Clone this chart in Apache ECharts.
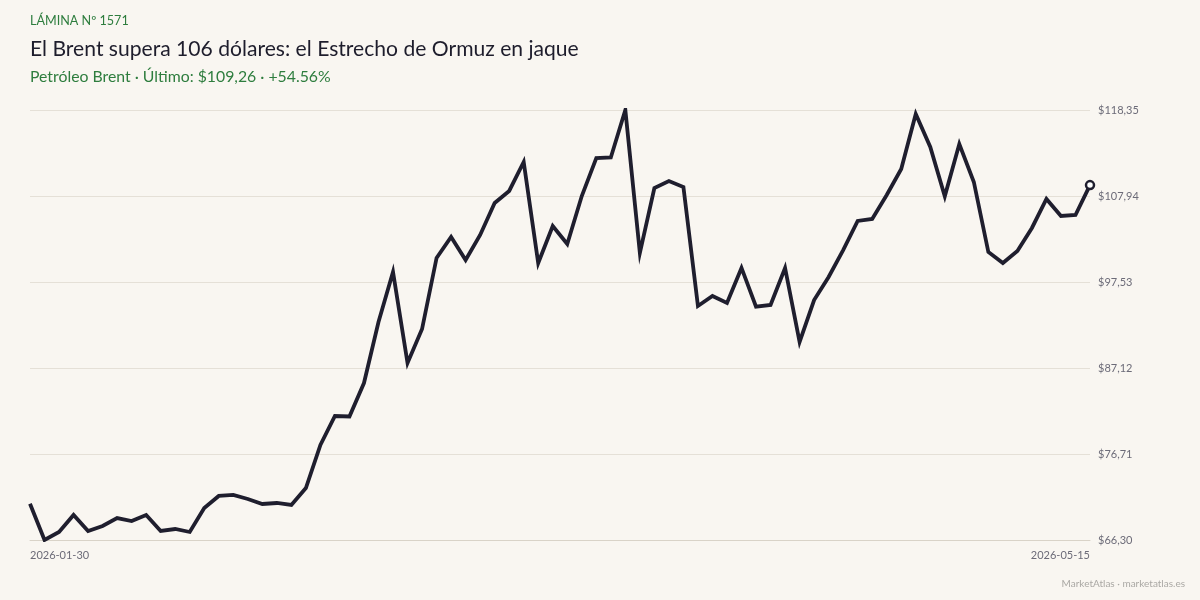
<!DOCTYPE html>
<html>
<head>
<meta charset="utf-8">
<script src="https://cdn.jsdelivr.net/npm/echarts@6/dist/echarts.min.js"></script>
<style>
  html, body { margin: 0; padding: 0; background: #f9f6f1; }
  #chart { width: 1200px; height: 600px; }
</style>
</head>
<body>
<div id="chart"></div>
<script>
// trading days (Good Friday / Easter Monday closed)
const dates = [
  '2026-01-30','2026-02-02','2026-02-03','2026-02-04','2026-02-05','2026-02-06',
  '2026-02-09','2026-02-10','2026-02-11','2026-02-12','2026-02-13',
  '2026-02-16','2026-02-17','2026-02-18','2026-02-19','2026-02-20',
  '2026-02-23','2026-02-24','2026-02-25','2026-02-26','2026-02-27',
  '2026-03-02','2026-03-03','2026-03-04','2026-03-05','2026-03-06',
  '2026-03-09','2026-03-10','2026-03-11','2026-03-12','2026-03-13',
  '2026-03-16','2026-03-17','2026-03-18','2026-03-19','2026-03-20',
  '2026-03-23','2026-03-24','2026-03-25','2026-03-26','2026-03-27',
  '2026-03-30','2026-03-31','2026-04-01','2026-04-02',
  '2026-04-07','2026-04-08','2026-04-09','2026-04-10',
  '2026-04-13','2026-04-14','2026-04-15','2026-04-16','2026-04-17',
  '2026-04-20','2026-04-21','2026-04-22','2026-04-23','2026-04-24',
  '2026-04-27','2026-04-28','2026-04-29','2026-04-30','2026-05-01',
  '2026-05-04','2026-05-05','2026-05-06','2026-05-07','2026-05-08',
  '2026-05-11','2026-05-12','2026-05-13','2026-05-14','2026-05-15'
]

// precio de cierre Brent (USD)
const brent = [
  70.69, 66.30, 67.27, 69.33, 67.39, 67.99, 68.96, 68.60, 69.33, 67.39,
  67.63, 67.27, 70.17, 71.63, 71.75, 71.26, 70.66, 70.78, 70.54, 72.59,
  77.80, 81.31, 81.25, 85.30, 92.69, 98.74, 87.73, 91.84, 100.44, 102.98,
  100.19, 103.22, 107.09, 108.55, 112.06, 99.83, 104.31, 102.13, 107.94, 112.54,
  112.60, 118.35, 101.04, 108.91, 109.76, 109.03, 94.63, 95.84, 94.99, 99.23,
  94.55, 94.75, 99.23, 90.27, 95.35, 98.14, 101.40, 104.92, 105.16, 108.06,
  111.21, 117.87, 113.87, 107.90, 114.24, 109.64, 101.16, 99.83, 101.28, 104.07,
  107.58, 105.52, 105.64, 109.26
]

const yMin = 66.30
const yMax = 118.35
const yStep = 10.41

const chart = echarts.init(document.getElementById('chart'))

const lastIdx = brent.length - 1

const option = {
  backgroundColor: '#f9f6f1',
  textStyle: { fontFamily: 'Lato' },
  animation: false,
  title: [
    {
      text: 'LÁMINA Nº 1571',
      left: 25, top: 9,
      textStyle: { fontFamily: 'Lato', fontSize: 12.6, fontWeight: 'normal', color: '#2e7d3e' }
    },
    {
      text: 'El Brent supera 106 dólares: el Estrecho de Ormuz en jaque',
      left: 25, top: 34,
      textStyle: { fontFamily: 'Lato', fontSize: 21.1, fontWeight: 'normal', color: '#1e1d2c' }
    },
    {
      text: 'Petróleo Brent · Último: $109,26 · +54.56%',
      left: 25, top: 64,
      textStyle: { fontFamily: 'Lato', fontSize: 15.8, fontWeight: 'normal', color: '#2e7d3e' }
    },
    {
      text: 'MarketAtlas · marketatlas.es',
      right: 10, top: 574,
      textStyle: { fontFamily: 'Lato', fontSize: 10, fontWeight: 'normal', color: '#aaa8a4' }
    }
  ],
  grid: { left: 30, right: 110, top: 110, bottom: 60, containLabel: false },
  xAxis: {
    type: 'category',
    data: dates,
    boundaryGap: false,
    axisLine: { show: true, lineStyle: { color: '#d9d3c8', width: 1 } },
    axisTick: { show: false },
    splitLine: { show: false },
    axisLabel: {
      color: '#6c6b78',
      fontFamily: 'Lato',
      fontSize: 11,
      margin: 10,
      interval: (i) => i === 0 || i === lastIdx,
      alignMinLabel: 'left',
      alignMaxLabel: 'right'
    }
  },
  yAxis: {
    type: 'value',
    position: 'right',
    min: yMin,
    max: yMax,
    interval: yStep,
    axisLine: { show: false },
    axisTick: { show: false },
    splitLine: { lineStyle: { color: '#e5e0d7', width: 1 } },
    axisLabel: {
      color: '#6c6b78',
      fontFamily: 'Lato',
      fontSize: 11,
      margin: 8,
      formatter: (v) => '$' + v.toFixed(2).replace('.', ',')
    }
  },
  series: [
    {
      type: 'line',
      data: brent,
      symbol: 'none',
      lineStyle: { color: '#1f1e2e', width: 3.8, join: 'miter' },
      markPoint: {
        symbol: 'circle',
        symbolSize: 8,
        itemStyle: { color: '#ffffff', borderColor: '#1f1e2e', borderWidth: 2.5 },
        label: { show: false },
        data: [{ coord: [lastIdx, brent[lastIdx]] }]
      }
    }
  ]
}

chart.setOption(option)
</script>
</body>
</html>
